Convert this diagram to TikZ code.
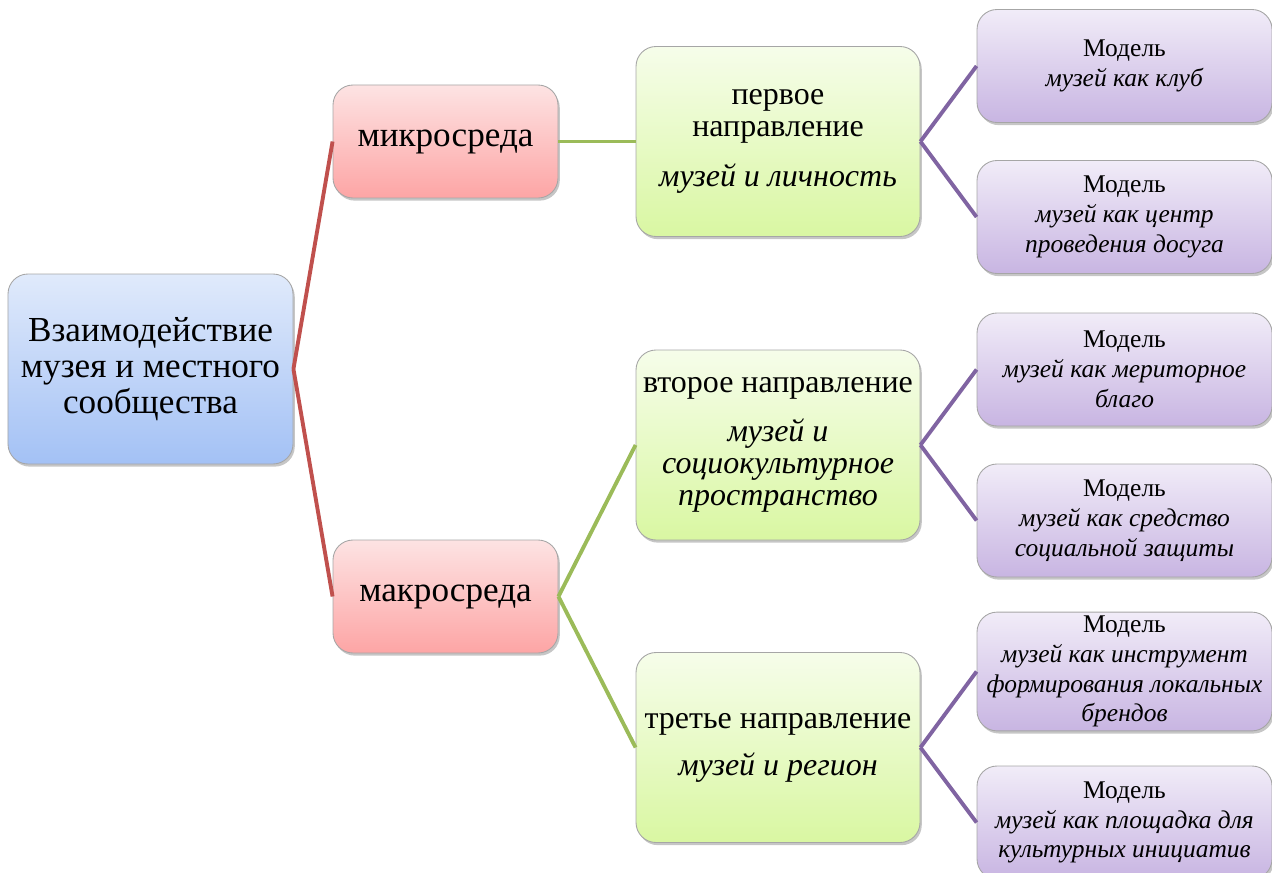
\documentclass[tikz,border=0pt]{standalone}
\usepackage{fontspec}
\setmainfont{Liberation Serif}
\usepackage[dvipsnames]{xcolor}
\usetikzlibrary{positioning, shadows}

\definecolor{rootTop}{HTML}{E0EAFB}
\definecolor{rootBot}{HTML}{A3C1F5}
\definecolor{envTop}{HTML}{FDE3E3}
\definecolor{envBot}{HTML}{FDA5A5}
\definecolor{dirTop}{HTML}{F6FDEA}
\definecolor{dirBot}{HTML}{D9F7A2}
\definecolor{modTop}{HTML}{F1ECF8}
\definecolor{modBot}{HTML}{C8B5E2}
\definecolor{redLine}{HTML}{C0504D}
\definecolor{greenLine}{HTML}{9BBB59}
\definecolor{purpleLine}{HTML}{8064A2}

\tikzset{
  box/.style={draw=gray!70, line width=0.5pt, rounded corners=0.4cm, align=center,
    inner sep=2pt, drop shadow={shadow xshift=1pt, shadow yshift=-1.5pt, opacity=0.45}},
  rootbox/.style={box, top color=rootTop, bottom color=rootBot, minimum width=5.7cm,
    minimum height=3.8cm, font=\fontsize{20}{20.5}\selectfont},
  envbox/.style={box, top color=envTop, bottom color=envBot, minimum width=4.5cm,
    minimum height=2.26cm, font=\fontsize{20}{20.5}\selectfont},
  dirbox/.style={box, top color=dirTop, bottom color=dirBot, minimum width=5.68cm,
    minimum height=3.8cm, font=\fontsize{18.2}{18.2}\selectfont},
  modbox/.style={box, top color=modTop, bottom color=modBot, minimum width=5.9cm,
    minimum height=2.26cm, font=\fontsize{14.5}{17}\selectfont},
  redlink/.style={draw=redLine, line width=2.2pt},
  greenlink/.style={draw=greenLine, line width=2.2pt},
  purplelink/.style={draw=purpleLine, line width=2.2pt}
}

\begin{document}
\begin{tikzpicture}[node distance = 5.9cm]
        \useasboundingbox (0,0) rectangle (25.44,-17.44);
        \begin{scope}
        \clip (0,0) rectangle (25.44,-17.44);
        \node[rootbox] (root) at (3.01,-7.38) {Взаимодействие\\музея и местного\\сообщества};

        \node[envbox, right of=root, yshift=4.55cm] (micro) {микросреда};
        \node[envbox, right of=root, yshift=-4.55cm] (macro) {макросреда};

        \node[dirbox, right of=micro, node distance=6.65cm] (dir1)
          {первое\\направление\\[0.35cm]\textit{музей и личность}};
        \node[dirbox, right of=macro, node distance=6.65cm, yshift=3.03cm] (dir2)
          {второе направление\\[0.35cm]\textit{музей и}\\\textit{социокультурное}\\\textit{пространство}};
        \node[dirbox, right of=macro, node distance=6.65cm, yshift=-3.02cm] (dir3)
          {третье направление\\[0.3cm]\textit{музей и регион}};

        \node[modbox, right of=dir1, node distance=6.93cm, yshift=1.51cm] (mod1)
          {Модель\\\textit{музей как клуб}};
        \node[modbox, right of=dir1, node distance=6.93cm, yshift=-1.51cm] (mod2)
          {Модель\\\textit{музей как центр}\\\textit{проведения досуга}};
        \node[modbox, right of=dir2, node distance=6.93cm, yshift=1.51cm] (mod3)
          {Модель\\\textit{музей как мериторное}\\\textit{благо}};
        \node[modbox, right of=dir2, node distance=6.93cm, yshift=-1.51cm] (mod4)
          {Модель\\\textit{музей как средство}\\\textit{социальной защиты}};
        \node[modbox, right of=dir3, node distance=6.93cm, yshift=1.52cm] (mod5)
          {Модель\\\textit{музей как инструмент}\\\textit{формирования локальных}\\\textit{брендов}};
        \node[modbox, right of=dir3, node distance=6.93cm, yshift=-1.50cm] (mod6)
          {Модель\\\textit{музей как площадка для}\\\textit{культурных инициатив}};

        \draw[redlink] (root.east) -- (micro.west);
        \draw[redlink] (root.east) -- (macro.west);
        \draw[greenlink] (micro.east) -- (dir1.west);
        \draw[greenlink] (macro.east) -- (dir2.west);
        \draw[greenlink] (macro.east) -- (dir3.west);
        \draw[purplelink] (dir1.east) -- (mod1.west);
        \draw[purplelink] (dir1.east) -- (mod2.west);
        \draw[purplelink] (dir2.east) -- (mod3.west);
        \draw[purplelink] (dir2.east) -- (mod4.west);
        \draw[purplelink] (dir3.east) -- (mod5.west);
        \draw[purplelink] (dir3.east) -- (mod6.west);
        \end{scope}
      \end{tikzpicture}
\end{document}
